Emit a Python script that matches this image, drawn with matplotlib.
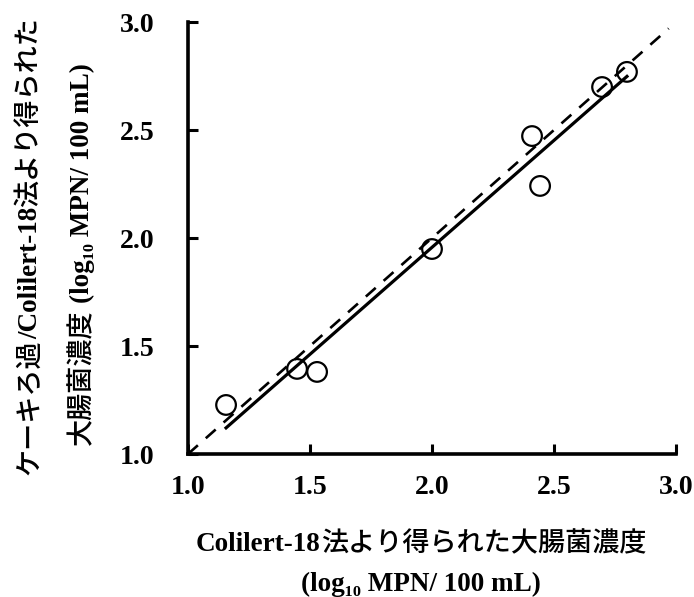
import numpy as np
import matplotlib
matplotlib.use("Agg")
import matplotlib.pyplot as plt

plt.rcParams['font.family'] = ['Liberation Serif', 'Noto Sans CJK JP', 'DejaVu Serif']

# Data (log10 MPN/100 mL)
colilert = [1.156, 1.447, 1.529, 2.000, 2.410, 2.443, 2.697, 2.799]
cake = [1.227, 1.394, 1.380, 1.949, 2.472, 2.241, 2.699, 2.769]
x_ticks = [1.0, 1.5, 2.0, 2.5, 3.0]
y_ticks = [1.0, 1.5, 2.0, 2.5, 3.0]
tick_labels = ['1.0', '1.5', '2.0', '2.5', '3.0']
one_to_one = [1.0, 2.97]

# Label pieces: (text, style) -- 'L' = bold serif Latin, 'J' = Japanese gothic
xlabel1 = [('Colilert-18', 'L'), ('法より得られた大腸菌濃度', 'J')]
xlabel2 = [('(log₁₀ MPN/ 100 mL)', 'L')]
ylabel1 = [('ケーキろ過', 'J'), ('/Colilert-18', 'L'), ('法より得られた', 'J')]
ylabel2 = [('大腸菌濃度', 'J'), (' (log₁₀ MPN/ 100 mL)', 'L')]

W, H = 694, 597
FS = 19.5
STYLES = {
    'L': dict(family=['Liberation Serif', 'DejaVu Serif'], fontweight='bold'),
    'J': dict(family=['Noto Sans CJK JP', 'DejaVu Sans'], fontweight='medium'),
}

fig = plt.figure(figsize=(W/100, H/100), dpi=100)
ax = fig.add_axes([188/W, 1-454/H, (676-188)/W, (454-22)/H])

x = np.array(colilert)
y = np.array(cake)
slope, intercept = np.polyfit(x, y, 1)
xf = np.array([x.min(), x.max()])
ax.plot(xf, slope*xf + intercept, color='black', lw=2.3, zorder=2)
ax.plot(one_to_one, one_to_one, color='black', lw=1.9, ls=(0, (5, 4)), zorder=2)
ax.scatter(x, y, s=200, facecolors='none', edgecolors='black', linewidths=1.6, zorder=3)

ax.set_xlim(1.0, 3.0)
ax.set_ylim(1.0, 3.0)
ax.set_xticks(x_ticks)
ax.set_yticks(y_ticks)
ax.set_xticklabels(tick_labels, fontsize=20, fontweight='bold')
ax.set_yticklabels(tick_labels, fontsize=20, fontweight='bold')
ax.tick_params(direction='in', length=7, width=2.2)
ax.tick_params(axis='x', pad=15)
ax.tick_params(axis='y', pad=24)
for s in ['top', 'right']:
    ax.spines[s].set_visible(False)
for s in ['left', 'bottom']:
    ax.spines[s].set_linewidth(2.6)

renderer = fig.canvas.get_renderer()
space_px = 0.25 * FS * 100 / 72


def measure(pieces):
    out = []
    for s, st in pieces:
        gap = 0.0
        if s.startswith(' '):
            gap = space_px
            s = s.strip()
        t = fig.text(0, 0, s, fontsize=FS, **STYLES[st])
        w = t.get_window_extent(renderer).width
        t.remove()
        out.append((s, st, gap, w))
    return out


def draw_horizontal(pieces, center_x, baseline_top):
    m = measure(pieces)
    total = sum(g + w for _, _, g, w in m)
    pos = center_x - total / 2
    for s, st, g, w in m:
        pos += g
        fig.text(pos / W, 1 - baseline_top / H, s, fontsize=FS, ha='left',
                 va='baseline', **STYLES[st])
        pos += w


def draw_vertical(pieces, baseline_x, center_top):
    m = measure(pieces)
    total = sum(g + w for _, _, g, w in m)
    pos = center_top + total / 2  # start at bottom (pixels from top)
    for s, st, g, w in m:
        pos -= g
        fig.text(baseline_x / W, 1 - pos / H, s, fontsize=FS, ha='left',
                 va='baseline', rotation=90, rotation_mode='anchor', **STYLES[st])
        pos -= w


draw_horizontal(xlabel1, 421, 551)
draw_horizontal(xlabel2, 421, 591)
draw_vertical(ylabel1, 37, 246)
draw_vertical(ylabel2, 89, 254)

fig.savefig('out.png', dpi=100)
